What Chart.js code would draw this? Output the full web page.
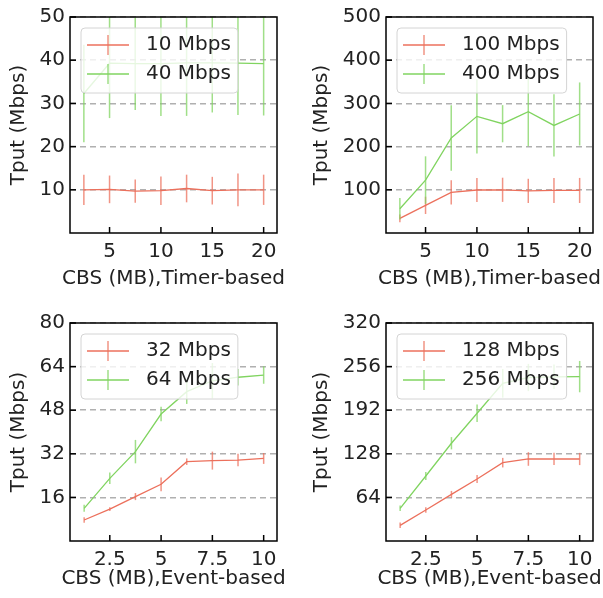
<!DOCTYPE html>
<html>
<head>
<meta charset="utf-8">
<script src="https://cdn.jsdelivr.net/npm/chart.js@4.4.0/dist/chart.umd.min.js"></script>
<style>
  body { margin: 0; background: #fff; }
  canvas { position: absolute; }
</style>
</head>
<body>
<canvas id="c1" width="300" height="300" style="left:0;top:0"></canvas>
<canvas id="c2" width="303" height="300" style="left:300px;top:0"></canvas>
<canvas id="c3" width="300" height="298" style="left:0;top:300px"></canvas>
<canvas id="c4" width="303" height="298" style="left:300px;top:300px"></canvas>
<script>
// CBS sizes (MB)
const timerX = [2.5, 5, 7.5, 10, 12.5, 15, 17.5, 20];
const eventX = [1.25, 2.5, 3.75, 5, 6.25, 7.5, 8.75, 10];

// timer-based, 10 / 40 Mbps
const tput10 = [10.0, 10.1, 9.7, 9.8, 10.3, 9.8, 10.0, 10.0];
const err10 = [3.5, 3.2, 2.7, 3.3, 3.2, 3.2, 3.8, 3.5];
const tput40 = [32.3, 39.3, 39.2, 39.2, 39.4, 39.4, 39.3, 39.2];
const err40 = [11.3, 12.7, 10.7, 12.1, 12.3, 11.5, 12.0, 12.0];

// timer-based, 100 / 400 Mbps
const tput100 = [34, 64, 94, 99.5, 100, 97.5, 98.5, 98.5];
const err100 = [9, 20, 28, 28, 28, 28, 29, 29];
const tput400 = [56, 122.5, 220, 270, 253, 281, 249, 275.5];
const err400 = [25, 55, 76, 86, 43, 80, 72, 73];

// event-based, 32 / 64 Mbps
const tput32 = [7.7, 11.7, 16.3, 20.8, 29.1, 29.5, 29.7, 30.3];
const err32 = [1.0, 0.7, 1.3, 2.5, 1.2, 3.3, 2.3, 2.0];
const tput64 = [12, 23, 32.8, 46.6, 54.8, 58.8, 60.1, 60.9];
const err64 = [1.3, 2.1, 4.3, 2.7, 4.5, 6.5, 3.0, 3.2];

// event-based, 128 / 256 Mbps
const tput128 = [23, 45.5, 68.5, 91, 115, 120.4, 120.4, 120.4];
const err128 = [4, 4, 5, 6, 7, 10, 9, 9];
const tput256 = [48, 95.4, 143.5, 187.5, 231.5, 240, 241, 241.3];
const err256 = [4, 6, 9, 13, 21, 20, 18, 23];

// tick labels
const timerTicks = [5, 10, 15, 20];
const eventTicks = [2.5, 5, 7.5, 10];
const yTicks10 = [10, 20, 30, 40, 50];
const yTicks100 = [100, 200, 300, 400, 500];
const yTicks32 = [16, 32, 48, 64, 80];
const yTicks128 = [64, 128, 192, 256, 320];

const RED = "rgb(236,112,92)";
const GREEN = "rgb(128,212,96)";
const RED_ERR = "rgba(236,112,92,0.75)";
const GREEN_ERR = "rgba(128,212,96,0.75)";
const FONT = "'DejaVu Sans', sans-serif";
const FS = 20;
const TEXT = "#222";

function series(label, xs, ys, errs, color, errColor) {
  return {
    label: label,
    data: xs.map((x, i) => ({ x: x, y: ys[i] })),
    errors: errs,
    errColor: errColor,
    borderColor: color,
    backgroundColor: color,
    borderWidth: 1.3,
    showLine: true,
    pointRadius: 0,
    tension: 0
  };
}

// error bars, frame, inward ticks, x title and the in-plot legend
const decor = {
  id: "decor",
  afterDatasetsDraw(chart) {
    const { ctx, chartArea: a, scales: { x, y } } = chart;
    ctx.save();
    ctx.beginPath();
    ctx.rect(a.left, a.top, a.right - a.left, a.bottom - a.top);
    ctx.clip();
    ctx.lineWidth = 1.5;
    chart.data.datasets.forEach(ds => {
      ctx.strokeStyle = ds.errColor;
      ds.data.forEach((p, i) => {
        const px = x.getPixelForValue(p.x);
        ctx.beginPath();
        ctx.moveTo(px, y.getPixelForValue(p.y - ds.errors[i]));
        ctx.lineTo(px, y.getPixelForValue(p.y + ds.errors[i]));
        ctx.stroke();
      });
    });
    ctx.restore();
  },
  afterDraw(chart) {
    const { ctx, chartArea: a, scales: { x, y } } = chart;
    const opts = chart.options.plugins.decor;
    ctx.save();
    // inward ticks
    ctx.strokeStyle = "#000";
    ctx.lineWidth = 1.5;
    y.ticks.forEach(t => {
      const py = y.getPixelForValue(t.value);
      ctx.beginPath(); ctx.moveTo(a.left, py); ctx.lineTo(a.left + 6, py); ctx.stroke();
    });
    x.ticks.forEach(t => {
      const px = x.getPixelForValue(t.value);
      ctx.beginPath(); ctx.moveTo(px, a.bottom); ctx.lineTo(px, a.bottom - 6); ctx.stroke();
    });
    // frame
    ctx.strokeRect(a.left, a.top, a.right - a.left, a.bottom - a.top);

    ctx.font = FS + "px " + FONT;
    ctx.fillStyle = TEXT;
    ctx.textBaseline = "middle";

    // x title (wider than the plot, so not squeezed by the scale)
    ctx.textAlign = "center";
    ctx.fillText(opts.xTitle, (a.left + a.right) / 2, opts.xTitleY);

    // legend
    const widest = Math.max(...chart.data.datasets.map(ds => ctx.measureText(ds.label).width));
    const bx = a.left + 11, by = a.top + 11, bw = 65 + widest + 7, bh = 65;
    ctx.beginPath();
    ctx.roundRect(bx, by, bw, bh, 4);
    ctx.fillStyle = "rgba(255,255,255,0.8)";
    ctx.fill();
    ctx.strokeStyle = "#d4d4d4";
    ctx.lineWidth = 1;
    ctx.stroke();
    chart.data.datasets.forEach((ds, i) => {
      const cy = by + 17 + i * 29;
      ctx.strokeStyle = ds.borderColor;
      ctx.lineWidth = 1.3;
      ctx.beginPath(); ctx.moveTo(bx + 6, cy); ctx.lineTo(bx + 48, cy); ctx.stroke();
      ctx.strokeStyle = ds.errColor;
      ctx.lineWidth = 1.5;
      ctx.beginPath(); ctx.moveTo(bx + 27, cy - 10); ctx.lineTo(bx + 27, cy + 10); ctx.stroke();
      ctx.fillStyle = TEXT;
      ctx.textAlign = "left";
      ctx.fillText(ds.label, bx + 65, cy);
    });
    ctx.restore();
  }
};

function makePanel(id, opts) {
  new Chart(document.getElementById(id), {
    type: "scatter",
    data: { datasets: opts.datasets },
    plugins: [decor],
    options: {
      responsive: false,
      animation: false,
      devicePixelRatio: 1,
      layout: { padding: { left: 0, right: opts.padRight, top: opts.padTop, bottom: 0 } },
      plugins: {
        legend: { display: false },
        tooltip: { enabled: false },
        decor: { xTitle: opts.xTitle, xTitleY: 279 }
      },
      scales: {
        x: {
          type: "linear",
          min: opts.xMin,
          max: opts.xMax,
          afterBuildTicks: s => { s.ticks = opts.xTicks.map(v => ({ value: v })); },
          afterFit: s => { s.height = opts.xHeight; },
          grid: { display: false, drawTicks: false },
          border: { display: false },
          ticks: { padding: 7, color: TEXT, font: { family: FONT, size: FS }, callback: v => String(v), maxRotation: 0 },
          title: { display: false }
        },
        y: {
          min: 0,
          max: opts.yTicks[opts.yTicks.length - 1],
          afterBuildTicks: s => { s.ticks = opts.yTicks.map(v => ({ value: v })); },
          afterFit: s => { s.width = opts.yWidth; },
          grid: { color: "#b0b0b0", lineWidth: 1.5, drawTicks: false },
          border: { display: false, dash: [6, 4] },
          ticks: { padding: 5, color: TEXT, font: { family: FONT, size: FS }, callback: v => String(v) },
          title: { display: true, text: "Tput (Mbps)", color: TEXT, font: { family: FONT, size: FS }, padding: { top: opts.yTitlePad, bottom: 0 } }
        }
      }
    }
  });
}

makePanel("c1", {
  datasets: [
    series("10 Mbps", timerX, tput10, err10, RED, RED_ERR),
    series("40 Mbps", timerX, tput40, err40, GREEN, GREEN_ERR)
  ],
  xMin: 1.15, xMax: 21.3, xTicks: timerTicks, yTicks: yTicks10,
  xTitle: "CBS (MB),Timer-based",
  padTop: 14, padRight: 23, yWidth: 70, xHeight: 67, yTitlePad: 7
});

makePanel("c2", {
  datasets: [
    series("100 Mbps", timerX, tput100, err100, RED, RED_ERR),
    series("400 Mbps", timerX, tput400, err400, GREEN, GREEN_ERR)
  ],
  xMin: 1.15, xMax: 21.3, xTicks: timerTicks, yTicks: yTicks100,
  xTitle: "CBS (MB),Timer-based",
  padTop: 14, padRight: 10, yWidth: 86, xHeight: 67, yTitlePad: 10
});

makePanel("c3", {
  datasets: [
    series("32 Mbps", eventX, tput32, err32, RED, RED_ERR),
    series("64 Mbps", eventX, tput64, err64, GREEN, GREEN_ERR)
  ],
  xMin: 0.56, xMax: 10.65, xTicks: eventTicks, yTicks: yTicks32,
  xTitle: "CBS (MB),Event-based",
  padTop: 23, padRight: 23, yWidth: 70, xHeight: 57, yTitlePad: 7
});

makePanel("c4", {
  datasets: [
    series("128 Mbps", eventX, tput128, err128, RED, RED_ERR),
    series("256 Mbps", eventX, tput256, err256, GREEN, GREEN_ERR)
  ],
  xMin: 0.56, xMax: 10.65, xTicks: eventTicks, yTicks: yTicks128,
  xTitle: "CBS (MB),Event-based",
  padTop: 23, padRight: 10, yWidth: 86, xHeight: 57, yTitlePad: 10
});
</script>
</body>
</html>
